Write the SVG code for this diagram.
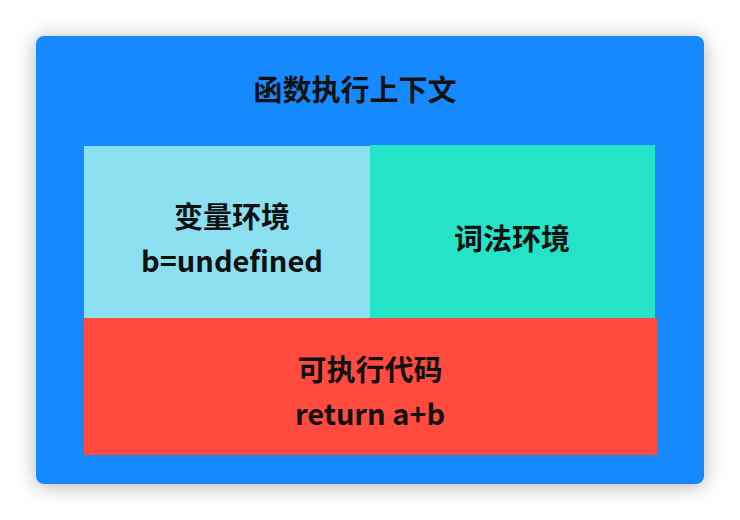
<svg xmlns="http://www.w3.org/2000/svg" width="740" height="520" viewBox="0 0 740 520">
<defs>
<filter id="sh" x="-10%" y="-10%" width="120%" height="120%"><feDropShadow dx="0" dy="2" stdDeviation="10" flood-color="#000" flood-opacity="0.3"/></filter>
<style>
text{font-family:"Noto Sans CJK SC","Liberation Sans",sans-serif;font-weight:bold;font-size:29px;fill:#111;text-anchor:middle;dominant-baseline:central}
</style>
</defs>
<rect width="740" height="520" fill="#fff"/>
<g id="context">
<rect x="36" y="36" width="668" height="448" rx="8" fill="#1589FF" filter="url(#sh)"/>
<text x="355" y="88">函数执行上下文</text>
</g>
<g id="variable-env">
<rect x="84" y="146" width="286" height="173" fill="#8BDFEE"/>
<text x="232" y="215">变量环境</text>
<text x="232" y="259">b=undefined</text>
</g>
<g id="lexical-env">
<rect x="370" y="145" width="285" height="174" fill="#24E3C6"/>
<text x="512" y="237">词法环境</text>
</g>
<g id="code">
<rect x="84" y="318" width="573" height="137" fill="#FF4A40"/>
<text x="370" y="368">可执行代码</text>
<text x="370" y="412">return a+b</text>
</g>
<g id="connectors"/>
</svg>
